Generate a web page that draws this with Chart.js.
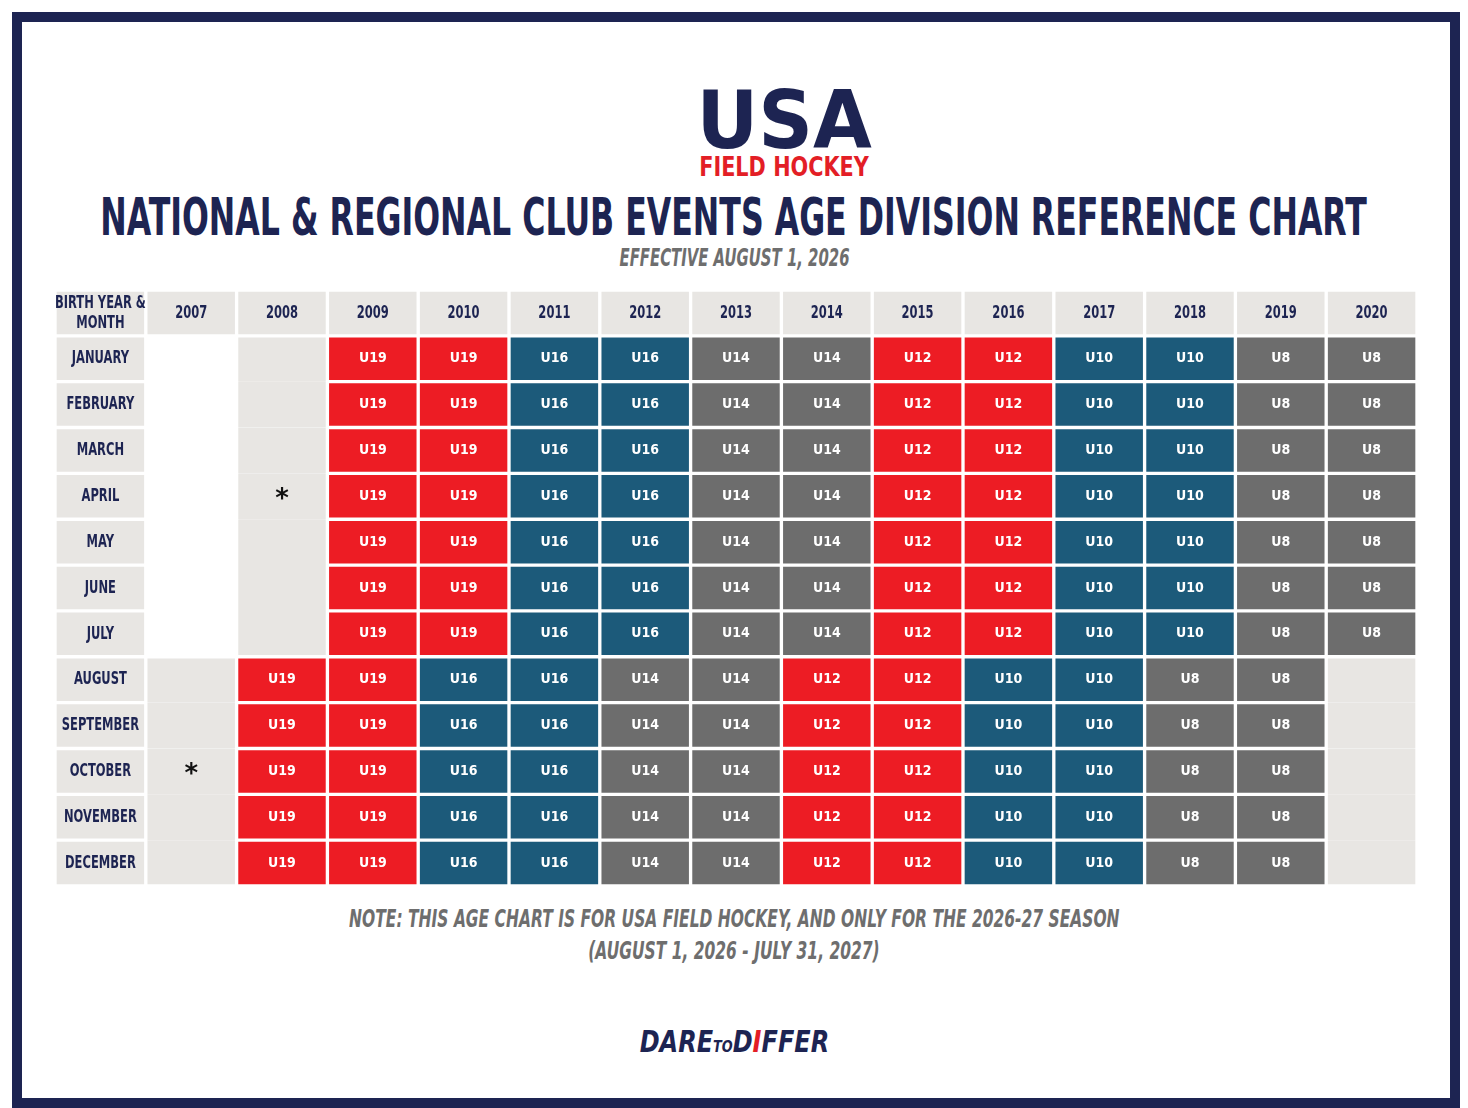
<!DOCTYPE html>
<html><head><meta charset="utf-8">
<script src="https://cdn.jsdelivr.net/npm/chart.js@4/dist/chart.umd.min.js"></script>
<style>
body{margin:0;background:#fff;width:1468px;height:1108px;position:relative;font-family:"DejaVu Sans",sans-serif;overflow:hidden}
#frame{position:absolute;left:12px;top:12px;width:1428px;height:1076px;border:10px solid #1d2452}
.t{position:absolute;left:0;width:1468px;display:flex;justify-content:center;font-weight:bold;white-space:nowrap;box-sizing:border-box}
.t span.n{display:inline-block;flex:none;transform:scaleX(0.62);transform-origin:center}
#box{position:absolute;left:55px;top:290px;width:1362px;height:596px}
</style></head><body>
<div id="frame"></div>
<div class="t" style="top:74px;font-size:80px;color:#1d2452;padding-left:100px"><span class="n" style="transform:scaleX(0.95)">USA</span></div>
<div class="t" style="top:152px;font-size:26px;color:#e31e26;padding-left:100px"><span class="n" style="transform:scaleX(0.8)">FIELD HOCKEY</span></div>
<div class="t" style="top:188px;font-size:51px;color:#1d2452"><span class="n">NATIONAL &amp; REGIONAL CLUB EVENTS AGE DIVISION REFERENCE CHART</span></div>
<div class="t" style="top:244px;font-size:24px;color:#6e6e6e;font-style:italic"><span class="n">EFFECTIVE AUGUST 1, 2026</span></div>
<div id="box"><canvas id="c"></canvas></div>
<div class="t" style="top:904px;font-size:25px;color:#6e6e6e;font-style:italic"><span class="n">NOTE: THIS AGE CHART IS FOR USA FIELD HOCKEY, AND ONLY FOR THE 2026-27 SEASON</span></div>
<div class="t" style="top:936px;font-size:25px;color:#6e6e6e;font-style:italic"><span class="n">(AUGUST 1, 2026 - JULY 31, 2027)</span></div>
<div class="t" style="top:1024px;font-size:30px;color:#1d2452;font-style:italic"><span class="n" style="transform:scaleX(0.8)">DARE<span style="font-size:16px">TO</span>D<span style="color:#e31e26">I</span>FFER</span></div>
<script>
var years = ["2007","2008","2009","2010","2011","2012","2013","2014","2015","2016","2017","2018","2019","2020"];
var months = ["JANUARY","FEBRUARY","MARCH","APRIL","MAY","JUNE","JULY","AUGUST","SEPTEMBER","OCTOBER","NOVEMBER","DECEMBER"];
// division per year column, before and after the August cutoff
var janToJul = ["", "*", "U19","U19","U16","U16","U14","U14","U12","U12","U10","U10","U8","U8"];
var augToDec = ["*", "U19","U19","U16","U16","U14","U14","U12","U12","U10","U10","U8","U8","-"];

var colors = {U19:'#ed1c24', U16:'#1c5a7a', U14:'#6d6d6d', U12:'#ed1c24', U10:'#1c5a7a', U8:'#6d6d6d',
  '*':'#e8e6e3', '-':'#e8e6e3', '':'#ffffff', head:'#e8e6e3'};
var cols = ["BIRTH YEAR &\nMONTH"].concat(years);

var rows = [cols.map(function(c){ return {text:c, kind:'head'}; })];
months.forEach(function(m, i){
  var divs = i < 7 ? janToJul : augToDec;
  rows.push([{text:m, kind:'head'}].concat(divs.map(function(d){ return {text:d, kind:d}; })));
});
function merged(k){ return k==='*' || k==='-' || k===''; }

var datasets = rows.map(function(row, r){
  return {
    data: row.map(function(){ return 1; }),
    backgroundColor: row.map(function(c){ return colors[c.kind] || colors.head; }),
    borderColor: '#ffffff',
    borderWidth: row.map(function(c, ci){
      var up = r > 1 && merged(c.kind) && rows[r-1][ci].kind === c.kind;
      var dn = r < rows.length-1 && merged(c.kind) && rows[r+1][ci].kind === c.kind;
      return {left:2, right:2, top: up ? 0 : 2, bottom: dn ? 0 : 2};
    }),
    borderSkipped: false,
    categoryPercentage: 1, barPercentage: 1
  };
});

function narrowText(ctx, s, x, y, sx){
  ctx.save(); ctx.translate(x, y); ctx.scale(sx, 1); ctx.fillText(s, 0, 0); ctx.restore();
}

var cellText = {
  id: 'cellText',
  afterDatasetsDraw: function(chart){
    var ctx = chart.ctx;
    ctx.save();
    ctx.textAlign = 'center'; ctx.textBaseline = 'middle';
    rows.forEach(function(row, r){
      var meta = chart.getDatasetMeta(r);
      row.forEach(function(c, ci){
        var el = meta.data[ci];
        var cy = (el.y + el.base) / 2;
        if (c.kind === 'head') {
          ctx.fillStyle = '#1d2452';
          ctx.font = 'bold 18px "DejaVu Sans"';
          var lines = c.text.split('\n');
          lines.forEach(function(l, li){ narrowText(ctx, l, el.x, cy + (li - (lines.length-1)/2) * 20, 0.64); });
        } else if (!merged(c.kind)) {
          ctx.fillStyle = '#ffffff';
          ctx.font = 'bold 14px "DejaVu Sans"';
          narrowText(ctx, c.text, el.x, cy, 0.9);
        }
      });
    });
    // asterisks centred in merged blocks
    [[2, 1, 7], [1, 8, 12]].forEach(function(b){
      var top = chart.getDatasetMeta(b[1]).data[b[0]];
      var bot = chart.getDatasetMeta(b[2]).data[b[0]];
      ctx.fillStyle = '#111';
      ctx.font = 'bold 26px "DejaVu Sans"';
      ctx.fillText('*', top.x, (top.base + bot.y) / 2 + 4);
    });
    ctx.restore();
  }
};

new Chart(document.getElementById('c'), {
  type: 'bar',
  data: { labels: cols, datasets: datasets },
  options: {
    responsive: true, maintainAspectRatio: false, animation: false,
    layout: { padding: 0 },
    plugins: { legend: { display: false }, tooltip: { enabled: false } },
    scales: {
      x: { stacked: true, display: false },
      y: { stacked: true, display: false, reverse: true, min: 0, max: rows.length }
    }
  },
  plugins: [cellText]
});
</script>
</body></html>
